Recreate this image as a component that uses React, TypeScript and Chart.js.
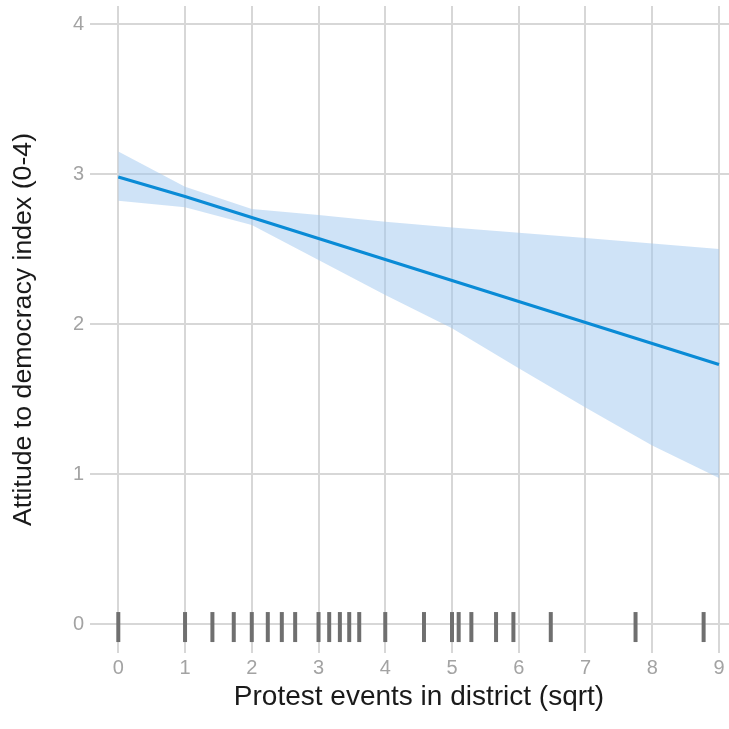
import React, { useEffect, useRef } from 'react';
import { Chart, registerables } from 'chart.js';

Chart.register(...registerables);

const xTicks = [0, 1, 2, 3, 4, 5, 6, 7, 8, 9];
const yTicks = [0, 1, 2, 3, 4];
const fitX = [0, 1, 2, 3, 4, 5, 6, 7, 8, 9];
const fitY = [2.98, 2.85, 2.71, 2.57, 2.43, 2.29, 2.15, 2.01, 1.87, 1.73];
const ciUpper = [3.15, 2.915, 2.767, 2.727, 2.682, 2.644, 2.609, 2.573, 2.537, 2.5];
const ciLower = [2.822, 2.778, 2.66, 2.427, 2.193, 1.971, 1.705, 1.444, 1.19, 0.973];
const rugX = [0, 1, 1.41, 1.73, 2, 2.24, 2.45, 2.65, 3, 3.16, 3.32, 3.46, 3.61, 4, 4.58, 5, 5.1, 5.29, 5.66, 5.92, 6.48, 7.75, 8.77];
const rugY = -0.02;

const xTitle = 'Protest events in district (sqrt)';
const yTitle = 'Attitude to democracy index (0-4)';

const FONT = "'Liberation Sans', Arial, Helvetica, sans-serif";

export default function App() {
  const ref = useRef<HTMLCanvasElement | null>(null);

  useEffect(() => {
    document.body.style.margin = '0';
    document.body.style.overflow = 'hidden';
    const canvas = ref.current;
    if (!canvas) return;
    const gridColor = '#d7d7d7';
    const chart = new Chart(canvas, {
      type: 'line',
      data: {
        datasets: [
          {
            label: 'upper',
            data: fitX.map((x, i) => ({ x, y: ciUpper[i] })),
            borderWidth: 0,
            pointRadius: 0,
            fill: '+1',
            backgroundColor: 'rgba(160, 200, 240, 0.5)',
            borderColor: 'rgba(0,0,0,0)',
            order: 3,
          },
          {
            label: 'lower',
            data: fitX.map((x, i) => ({ x, y: ciLower[i] })),
            borderWidth: 0,
            pointRadius: 0,
            fill: false,
            borderColor: 'rgba(0,0,0,0)',
            order: 3,
          },
          {
            label: 'fit',
            data: fitX.map((x, i) => ({ x, y: fitY[i] })),
            borderColor: '#0a8bd6',
            borderWidth: 3,
            pointRadius: 0,
            fill: false,
            order: 1,
          },
          {
            type: 'scatter',
            label: 'rug',
            data: rugX.map((x) => ({ x, y: rugY })),
            showLine: false,
            pointStyle: 'line',
            pointRadius: 15,
            rotation: 90,
            borderColor: '#6f6f6f',
            borderWidth: 4,
            order: 2,
          } as any,
        ],
      },
      options: {
        animation: false,
        responsive: false,
        devicePixelRatio: 1,
        layout: { autoPadding: false, padding: { top: 6, right: 0, left: 0, bottom: 0 } },
        plugins: { legend: { display: false }, tooltip: { enabled: false } },
        scales: {
          x: {
            type: 'linear',
            min: -0.424,
            max: 9.435,
            afterBuildTicks: (s: any) => {
              s.ticks = xTicks.map((v) => ({ value: v }));
            },
            afterFit: (s: any) => {
              s.height = 76;
              s.paddingLeft = 0;
              s.paddingRight = 0;
            },
            border: { display: false },
            grid: { color: gridColor, lineWidth: 2, drawTicks: false },
            ticks: {
              color: '#a3a3a3',
              font: { family: FONT, size: 20 },
              padding: 3,
              maxRotation: 0,
              autoSkip: false,
            },
            title: {
              display: true,
              text: xTitle,
              color: '#1a1a1a',
              font: { family: FONT, size: 28 },
              padding: { top: 0, bottom: 15 },
            },
          },
          y: {
            type: 'linear',
            min: -0.193,
            max: 4.12,
            afterBuildTicks: (s: any) => {
              s.ticks = yTicks.map((v) => ({ value: v }));
            },
            afterFit: (s: any) => {
              s.width = 90;
              s.paddingTop = 0;
              s.paddingBottom = 0;
            },
            border: { display: false },
            grid: { color: gridColor, lineWidth: 2, drawTicks: false },
            ticks: {
              color: '#a3a3a3',
              font: { family: FONT, size: 20 },
              padding: 6,
              autoSkip: false,
            },
            title: {
              display: true,
              text: yTitle,
              color: '#1a1a1a',
              font: { family: FONT, size: 26.7 },
              padding: { top: 8, bottom: 0 },
            },
          },
        },
      },
    });
    return () => chart.destroy();
  }, []);

  return (
    <div style={{ width: 729, height: 729, overflow: 'hidden' }}>
      <canvas ref={ref} width={748} height={729} style={{ display: 'block' }} />
    </div>
  );
}
